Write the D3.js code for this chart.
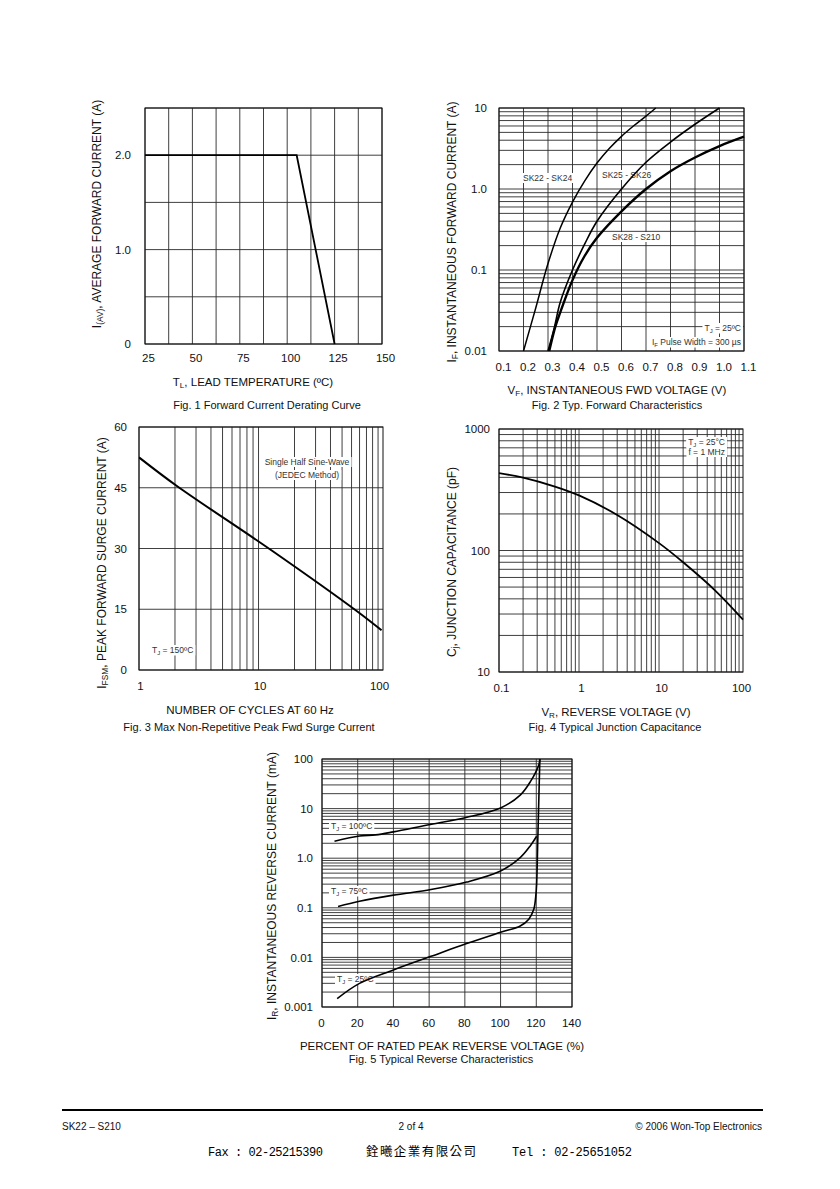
<!DOCTYPE html>
<html>
<head>
<meta charset="utf-8">
<script src="https://cdn.jsdelivr.net/npm/d3@7"></script>
<style>
  body { margin: 0; background: #fff; }
</style>
</head>
<body>
<div id="page"></div>
<script>
// ---- data ----

// Fig. 1 derating curve
const fig1Temp = [25, 105, 125];
const fig1Current = [2.0, 2.0, 0];
const fig1XTicks = [25, 50, 75, 100, 125, 150];
const fig1YTicks = [0, 1.0, 2.0];

// Fig. 2 forward characteristics (V, A)
const sk22Volt = [0.20, 0.25, 0.30, 0.35, 0.40, 0.45, 0.50, 0.55, 0.60, 0.65, 0.70, 0.74];
const sk22Amp = [0.01, 0.034, 0.12, 0.33, 0.69, 1.26, 2.09, 3.16, 4.47, 6.03, 7.94, 10];
const sk25Volt = [0.30, 0.325, 0.35, 0.40, 0.45, 0.50, 0.60, 0.70, 0.80, 0.90, 1.00];
const sk25Amp = [0.01, 0.019, 0.04, 0.10, 0.21, 0.40, 1.0, 2.14, 3.8, 6.3, 10];
const sk28Volt = [0.305, 0.33, 0.35, 0.40, 0.45, 0.50, 0.60, 0.70, 0.80, 0.90, 1.00, 1.10];
const sk28Amp = [0.01, 0.02, 0.03, 0.075, 0.15, 0.25, 0.53, 1.0, 1.66, 2.45, 3.39, 4.42];
const fig2XTicks = [0.1, 0.2, 0.3, 0.4, 0.5, 0.6, 0.7, 0.8, 0.9, 1.0, 1.1];
const fig2YTicks = [0.01, 0.1, 1, 10];

// Fig. 3 surge current
const fig3Cycles = [1, 2.06, 12.9, 66.7, 107];
const fig3Surge = [52.5, 45.5, 29.5, 14.5, 9.8];
const fig3XTicks = [1, 10, 100];
const fig3YTicks = [0, 15, 30, 45, 60];

// Fig. 4 junction capacitance
const fig4Volt = [0.1, 0.2, 0.5, 1, 3, 10, 20, 50, 112];
const fig4Cap = [433, 398, 336, 284, 196, 115, 80, 47, 27];
const fig4XTicks = [0.1, 1, 10, 100];
const fig4YTicks = [10, 100, 1000];

// Fig. 5 reverse characteristics (% rated VR, mA)
const tj100Pct = [7, 21, 30, 40, 60.7, 80.7, 100, 111, 116.7, 121.4, 122];
const tj100Ir = [2.2, 2.8, 2.95, 3.4, 4.8, 6.6, 10.3, 18.7, 35, 76, 100];
const tj75Pct = [9, 21, 40, 61, 81, 100, 111, 116.7, 120.2];
const tj75Ir = [0.106, 0.135, 0.18, 0.233, 0.33, 0.55, 1.03, 1.79, 2.77];
const tj25Pct = [8.5, 21, 40, 61, 81, 100, 111, 115.8, 118.6, 119.7, 120.2, 120.8, 121.5, 122];
const tj25Ir = [0.00148, 0.003, 0.0056, 0.0105, 0.019, 0.032, 0.043, 0.059, 0.093, 0.17, 0.3, 2, 20, 100];
const fig5XTicks = [0, 20, 40, 60, 80, 100, 120, 140];
const fig5YTicks = [0.001, 0.01, 0.1, 1, 10, 100];

const FONT = "'Liberation Sans', Arial, sans-serif";

const svg = d3.select('#page').append('svg')
  .attr('width', 840).attr('height', 1189);
svg.append('rect').attr('width', '100%').attr('height', '100%').attr('fill', '#fff');

function zip(xs, ys) { return xs.map((v, i) => [v, ys[i]]); }

// text with an optional subscript part: parts = [[text, isSub], ...]
function richText(g, parts, size) {
  const t = g.append('text').attr('font-family', FONT).attr('font-size', size).attr('fill', '#111');
  parts.forEach(([s, sub]) => {
    const ts = t.append('tspan').text(s);
    if (sub) ts.attr('font-size', size * 0.7).attr('baseline-shift', '-25%');
  });
  return t;
}

// white box behind a note so the grid is hidden under it
function boxed(g, parts, size, x, y, anchor) {
  const t = richText(g, parts, size).attr('x', x).attr('y', y).attr('text-anchor', anchor || 'start').attr('fill', '#333');
  const b = t.node().getBBox();
  g.insert('rect', () => t.node())
    .attr('x', b.x - 2).attr('y', b.y).attr('width', b.width + 4).attr('height', b.height)
    .attr('fill', '#fff');
  return t;
}

function drawPanel(p) {
  const g = svg.append('g');
  const x = p.x, y = p.y;
  const [l, r] = x.range();
  const [b, t] = y.range();

  // grid
  g.append('g').selectAll('line').data(p.xGrid).join('line')
    .attr('x1', d => x(d)).attr('x2', d => x(d)).attr('y1', t).attr('y2', b)
    .attr('stroke', '#2a2a2a').attr('stroke-width', 0.9);
  g.append('g').selectAll('line').data(p.yGrid).join('line')
    .attr('x1', l).attr('x2', r).attr('y1', d => y(d)).attr('y2', d => y(d))
    .attr('stroke', '#2a2a2a').attr('stroke-width', 0.9);
  g.append('rect').attr('x', l).attr('y', t).attr('width', r - l).attr('height', b - t)
    .attr('fill', 'none').attr('stroke', '#111').attr('stroke-width', 1);

  // axes (labels only, the frame is drawn above)
  g.append('g').attr('transform', `translate(${p.xShift || 0},${b})`)
    .call(d3.axisBottom(x).tickValues(p.xTicks).tickFormat(p.xFormat).tickSize(0).tickPadding(p.xPad || 9))
    .call(a => a.select('.domain').remove())
    .attr('font-family', FONT).attr('font-size', 11.5);
  g.append('g').attr('transform', `translate(${l},0)`)
    .call(d3.axisLeft(y).tickValues(p.yTicks).tickFormat(p.yFormat).tickSize(0).tickPadding(p.yPad || 12))
    .call(a => a.select('.domain').remove())
    .attr('font-family', FONT).attr('font-size', 11.5);
  g.selectAll('.tick text').attr('fill', '#111');

  // notes
  (p.notes || []).forEach(n => boxed(g, n.parts, n.size || 8.5, n.x, n.y, n.anchor));

  // curves
  const line = d3.line().x(d => x(d[0])).y(d => y(d[1])).curve(p.curve || d3.curveCatmullRom.alpha(0.5));
  const clipId = 'clip' + p.id;
  g.append('clipPath').attr('id', clipId).append('rect')
    .attr('x', l).attr('y', t - 1).attr('width', r - l + 1).attr('height', b - t + 2);
  p.series.forEach(s => {
    g.append('path').attr('d', line(s.data)).attr('fill', 'none')
      .attr('stroke', '#000').attr('stroke-width', s.w || 1.6)
      .attr('clip-path', `url(#${clipId})`);
  });

  // titles
  richText(g, p.yTitle, 12)
    .attr('text-anchor', 'middle')
    .attr('transform', `translate(${p.yTitleAt[0]},${p.yTitleAt[1]}) rotate(-90)`);
  richText(g, p.xTitle, 11.5).attr('text-anchor', 'middle').attr('x', p.xTitleAt[0]).attr('y', p.xTitleAt[1]);
  richText(g, [[p.caption]], 11).attr('text-anchor', 'middle').attr('x', p.captionAt[0]).attr('y', p.captionAt[1]);
}

const fmt1 = d => d === 0 ? '0' : d3.format('.1f')(d);

// Fig. 1
drawPanel({
  id: 1,
  x: d3.scaleLinear().domain([25, 150]).range([145, 382]),
  y: d3.scaleLinear().domain([0, 2.5]).range([344, 108]),
  xGrid: d3.range(25, 150.01, 12.5), yGrid: d3.range(0, 2.51, 0.5),
  xTicks: fig1XTicks, xFormat: d3.format('d'), xShift: 3, xPad: 10,
  yTicks: fig1YTicks, yFormat: fmt1, yPad: 14,
  curve: d3.curveLinear,
  series: [{ data: zip(fig1Temp, fig1Current), w: 1.8 }],
  yTitle: [['I'], ['(AV)', true], [', AVERAGE FORWARD CURRENT (A)']], yTitleAt: [101, 214],
  xTitle: [['T'], ['L', true], [',  LEAD TEMPERATURE (ºC)']], xTitleAt: [253, 386],
  caption: 'Fig. 1  Forward Current Derating Curve', captionAt: [267, 409]
});

// Fig. 2
drawPanel({
  id: 2,
  x: d3.scaleLinear().domain([0.1, 1.1]).range([499, 744]),
  y: d3.scaleLog().domain([0.01, 10]).range([351, 108]),
  xGrid: fig2XTicks, yGrid: d3.scaleLog().domain([0.01, 10]).ticks(),
  xTicks: fig2XTicks, xFormat: d3.format('.1f'), xShift: 4, xPad: 12,
  yTicks: fig2YTicks, yFormat: d => d === 1 ? '1.0' : String(d), yPad: 12,
  series: [
    { data: zip(sk22Volt, sk22Amp), w: 1.5 },
    { data: zip(sk25Volt, sk25Amp), w: 1.6 },
    { data: zip(sk28Volt, sk28Amp), w: 2.4 }
  ],
  notes: [
    { parts: [['SK22 - SK24']], x: 523, y: 181 },
    { parts: [['SK25 - SK26']], x: 602, y: 178 },
    { parts: [['SK28 - S210']], x: 612, y: 240 },
    { parts: [['T'], ['J', true], [' = 25ºC']], x: 741, y: 331, anchor: 'end' },
    { parts: [['I'], ['F', true], [' Pulse Width = 300 µs']], x: 741, y: 345, anchor: 'end' }
  ],
  yTitle: [['I'], ['F', true], [', INSTANTANEOUS FORWARD CURRENT (A)']], yTitleAt: [456, 232],
  xTitle: [['V'], ['F', true], [', INSTANTANEOUS FWD VOLTAGE (V)']], xTitleAt: [617, 394],
  caption: 'Fig. 2  Typ. Forward Characteristics', captionAt: [617, 409]
});

// Fig. 3
drawPanel({
  id: 3,
  x: d3.scaleLog().domain([1, 110]).range([139, 383]),
  y: d3.scaleLinear().domain([0, 60]).range([670, 427]),
  xGrid: d3.scaleLog().domain([1, 110]).ticks(), yGrid: fig3YTicks,
  xTicks: fig3XTicks, xFormat: d3.format('d'), xShift: 1, xPad: 12,
  yTicks: fig3YTicks, yFormat: d3.format('d'), yPad: 12,
  series: [{ data: zip(fig3Cycles, fig3Surge), w: 2 }],
  notes: [
    { parts: [['Single Half Sine-Wave']], x: 307, y: 465, anchor: 'middle' },
    { parts: [['(JEDEC Method)']], x: 307, y: 478, anchor: 'middle' },
    { parts: [['T'], ['J', true], [' = 150ºC']], x: 152, y: 653 }
  ],
  yTitle: [['I'], ['FSM', true], [', PEAK FORWARD SURGE CURRENT (A)']], yTitleAt: [106, 563],
  xTitle: [['NUMBER OF CYCLES AT 60 Hz']], xTitleAt: [250, 714],
  caption: 'Fig. 3  Max Non-Repetitive Peak Fwd Surge Current', captionAt: [249, 731]
});

// Fig. 4
drawPanel({
  id: 4,
  x: d3.scaleLog().domain([0.1, 112]).range([499, 743]),
  y: d3.scaleLog().domain([10, 1000]).range([672, 429]),
  xGrid: d3.scaleLog().domain([0.1, 112]).ticks(), yGrid: d3.scaleLog().domain([10, 1000]).ticks(),
  xTicks: fig4XTicks, xFormat: d => String(d), xShift: 2, xPad: 12,
  yTicks: fig4YTicks, yFormat: d3.format('d'), yPad: 9,
  series: [{ data: zip(fig4Volt, fig4Cap), w: 1.8 }],
  notes: [
    { parts: [['T'], ['J', true], [' = 25°C']], x: 725, y: 445, anchor: 'end' },
    { parts: [['f = 1 MHz']], x: 725, y: 455, anchor: 'end' }
  ],
  yTitle: [['C'], ['j', true], [', JUNCTION CAPACITANCE (pF)']], yTitleAt: [456, 562],
  xTitle: [['V'], ['R', true], [', REVERSE VOLTAGE (V)']], xTitleAt: [616, 716],
  caption: 'Fig. 4  Typical Junction Capacitance', captionAt: [615, 731]
});

// Fig. 5
drawPanel({
  id: 5,
  x: d3.scaleLinear().domain([0, 140]).range([322, 572]),
  y: d3.scaleLog().domain([0.001, 100]).range([1007, 759]),
  xGrid: fig5XTicks, yGrid: d3.scaleLog().domain([0.001, 100]).ticks(),
  xTicks: fig5XTicks, xFormat: d3.format('d'), xShift: -1, xPad: 12,
  yTicks: fig5YTicks, yFormat: d => d === 1 ? '1.0' : String(d), yPad: 9,
  series: [
    { data: zip(tj100Pct, tj100Ir), w: 1.6 },
    { data: zip(tj75Pct, tj75Ir), w: 1.6 },
    { data: zip(tj25Pct, tj25Ir), w: 1.6 }
  ],
  notes: [
    { parts: [['T'], ['J', true], [' = 100ºC']], x: 331, y: 829 },
    { parts: [['T'], ['J', true], [' = 75ºC']], x: 331, y: 894 },
    { parts: [['T'], ['J', true], [' = 25ºC']], x: 337, y: 982 }
  ],
  yTitle: [['I'], ['R', true], [', INSTANTANEOUS REVERSE CURRENT (mA)']], yTitleAt: [276, 886],
  xTitle: [['PERCENT OF RATED PEAK REVERSE VOLTAGE (%)']], xTitleAt: [442, 1050],
  caption: 'Fig. 5  Typical Reverse Characteristics', captionAt: [441, 1063]
});

// ---- footer ----
const foot = svg.append('g');
foot.append('line').attr('x1', 62).attr('x2', 763).attr('y1', 1110).attr('y2', 1110)
  .attr('stroke', '#000').attr('stroke-width', 2);
foot.append('text').attr('x', 62).attr('y', 1130).text('SK22 – S210');
foot.append('text').attr('x', 411).attr('y', 1130).attr('text-anchor', 'middle').text('2 of 4');
foot.append('text').attr('x', 762).attr('y', 1130).attr('text-anchor', 'end').text('© 2006 Won-Top Electronics');
foot.selectAll('text').attr('font-family', FONT).attr('font-size', 10).attr('fill', '#111');

foot.append('text').attr('x', 208).attr('y', 1156).attr('textLength', 115)
  .attr('font-family', "'Liberation Mono', 'DejaVu Sans Mono', monospace").attr('font-size', 12)
  .text('Fax : 02-25215390');
foot.append('text').attr('x', 366).attr('y', 1156).attr('textLength', 110)
  .attr('font-family', "'Noto Sans CJK TC', sans-serif").attr('font-size', 12.5)
  .text('銓曦企業有限公司');
foot.append('text').attr('x', 512).attr('y', 1156).attr('textLength', 120)
  .attr('font-family', "'Liberation Mono', 'DejaVu Sans Mono', monospace").attr('font-size', 12)
  .text('Tel : 02-25651052');
</script>
</body>
</html>
